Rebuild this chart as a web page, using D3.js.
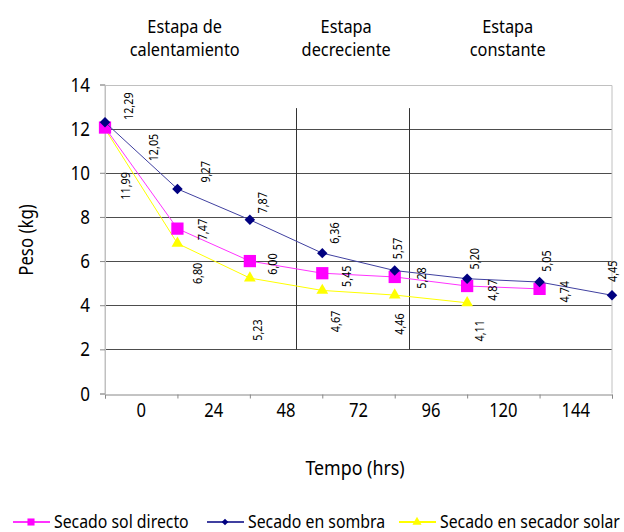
<!DOCTYPE html>
<html>
<head>
<meta charset="utf-8">
<script src="https://cdn.jsdelivr.net/npm/d3@7"></script>
<style>
  body { margin: 0; background: #fff; }
  svg text { font-family: "Noto Sans", sans-serif; font-weight: 400; fill: #000; }
</style>
</head>
<body>
<div id="chart"></div>
<script>
// data
const timeLabels = ["0", "24", "48", "72", "96", "120", "144"];
const solDirecto = [12.05, 7.47, 6.00, 5.45, 5.28, 4.87, 4.74];
const sombra = [12.29, 9.27, 7.87, 6.36, 5.57, 5.20, 5.05, 4.45];
const secadorSolar = [11.99, 6.80, 5.23, 4.67, 4.46, 4.11];
const yTicks = [0, 2, 4, 6, 8, 10, 12, 14];
const stageNames = [["Estapa de", "calentamiento"], ["Estapa", "decreciente"], ["Estapa", "constante"]];
const stageBounds = [2.64, 4.2];

// label offsets (px) as they were placed by hand in the original
const offSol = [[49, 20], [25, 1], [23, 3], [25, 3], [27, 1], [26, 4], [25, 3]];
const offSombra = [[24, -16], [28, -17], [13, -17], [13, -20], [3, -22], [8, -20], [7, -21], [1, -24]];
const offSecador = [[21, 57], [20, 30], [8, 52], [14, 31], [5, 29], [13, 28]];

const width = 624, height = 532;

const svg = d3.select("#chart")
    .append("svg")
    .attr("width", width)
    .attr("height", height);

const xScale = d3.scaleLinear().domain([0, 7]).range([105, 612]);
const yScale = d3.scaleLinear().domain([0, 14]).range([393.5, 84.5]);

// the original font is narrower than anything installed, so squeeze text a bit
function addText(g, x, y, txt, size, opts) {
    opts = opts || {};
    const sx = opts.sx || 0.86;
    const rot = opts.rotate ? ` rotate(${opts.rotate})` : "";
    return g.append("text")
        .attr("transform", `translate(${x},${y})${rot} scale(${sx},1)`)
        .attr("text-anchor", opts.anchor || "middle")
        .attr("dy", opts.dy || null)
        .style("font-size", size + "px")
        .text(txt);
}

// gridlines
svg.append("g")
    .selectAll("line")
    .data(yTicks.filter(d => d > 0 && d < 14))
    .enter()
    .append("line")
    .attr("x1", xScale(0))
    .attr("x2", xScale(7))
    .attr("y1", d => Math.round(yScale(d)) + 0.5)
    .attr("y2", d => Math.round(yScale(d)) + 0.5)
    .attr("stroke", "#4d4d4d")
    .attr("stroke-width", 1);

// frame
svg.append("path")
    .attr("d", `M${xScale(0)},${yScale(0)}V${Math.round(yScale(14)) + 0.5}H${xScale(7)}V${yScale(0)}`)
    .attr("fill", "none")
    .attr("stroke", "#c0c0c0");

// y axis
const yAxis = svg.append("g")
    .attr("transform", `translate(${xScale(0)},0)`)
    .call(d3.axisLeft(yScale).tickValues(yTicks).tickSize(5).tickFormat(""));
yAxis.select(".domain").attr("stroke", "#c0c0c0");
yAxis.selectAll(".tick line").attr("stroke", "#888");

const yLabels = svg.append("g");
yTicks.forEach(function(t) {
    addText(yLabels, 90, yScale(t), t, 20, {anchor: "end", dy: "0.35em", sx: 0.85});
});

// x axis
const xAxis = svg.append("g")
    .attr("transform", `translate(0,${Math.round(yScale(0)) + 0.5})`)
    .call(d3.axisBottom(xScale).tickValues(d3.range(0, 8)).tickSize(4).tickFormat(""));
xAxis.select(".domain").attr("stroke", "#888");
xAxis.selectAll(".tick line").attr("stroke", "#888");

const xLabels = svg.append("g");
timeLabels.forEach(function(t, i) {
    addText(xLabels, xScale(i + 0.5), 417, t, 20, {sx: 0.83});
});

// stage boundaries
svg.append("g")
    .selectAll("line")
    .data(stageBounds)
    .enter()
    .append("line")
    .attr("x1", d => Math.round(xScale(d)) + 0.5)
    .attr("x2", d => Math.round(xScale(d)) + 0.5)
    .attr("y1", yScale(12.93))
    .attr("y2", yScale(2))
    .attr("stroke", "#333");

// stage titles
const stageX = [1.1, 3.33, 5.56];
const titles = svg.append("g");
stageNames.forEach(function(lines, i) {
    lines.forEach(function(l, j) {
        addText(titles, xScale(stageX[i]), 33 + j * 23, l, 19, {sx: 0.86});
    });
});

// series
const series = [
    {name: "Secado sol directo", values: solDirecto, line: "#ff33ff", fill: "#ff00ff", shape: "square", offs: offSol},
    {name: "Secado en sombra", values: sombra, line: "#4040a0", fill: "#000080", shape: "diamond", offs: offSombra},
    {name: "Secado en secador solar", values: secadorSolar, line: "#ffff00", fill: "#ffff00", shape: "triangle", offs: offSecador}
];

const symbolType = {square: d3.symbolSquare, diamond: d3.symbolDiamond2, triangle: d3.symbolTriangle};
const symbolSize = {square: 150, diamond: 70, triangle: 60};
const legendSize = {square: 50, diamond: 28, triangle: 36};

const line = d3.line()
    .x((d, i) => xScale(i))
    .y(d => yScale(d));

const fmt = v => v.toFixed(2).replace(".", ",");

// draw in this order so the navy series sits on top
[series[2], series[0], series[1]].forEach(function(s) {
    svg.append("path")
        .datum(s.values)
        .attr("d", line)
        .attr("fill", "none")
        .attr("stroke", s.line)
        .attr("stroke-width", 1);

    svg.append("g")
        .selectAll("path")
        .data(s.values)
        .enter()
        .append("path")
        .attr("transform", (d, i) => `translate(${xScale(i)},${yScale(d)})`)
        .attr("d", d3.symbol().type(symbolType[s.shape]).size(symbolSize[s.shape]))
        .attr("fill", s.fill);
});

series.forEach(function(s) {
    const g = svg.append("g");
    s.values.forEach(function(v, i) {
        addText(g, xScale(i) + s.offs[i][0], yScale(v) + s.offs[i][1], fmt(v), 12,
            {rotate: -90, dy: "0.35em", sx: 0.9});
    });
});

// axis titles
addText(svg, 33, 240, "Peso (kg)", 20, {rotate: -90, sx: 0.84});
addText(svg, 355, 475, "Tempo (hrs)", 20, {sx: 0.89});

// legend
const legendX = [13, 207, 399];
const legend = svg.append("g");
series.forEach(function(s, i) {
    const g = legend.append("g").attr("transform", `translate(${legendX[i]},522)`);
    g.append("line")
        .attr("x1", 0).attr("x2", 37)
        .attr("stroke", s.line).attr("stroke-width", 2);
    g.append("path")
        .attr("transform", "translate(18,0)")
        .attr("d", d3.symbol().type(symbolType[s.shape]).size(legendSize[s.shape]))
        .attr("fill", s.fill);
    addText(g, 41, 6, s.name, 18, {anchor: "start", sx: 0.88});
});
</script>
</body>
</html>
